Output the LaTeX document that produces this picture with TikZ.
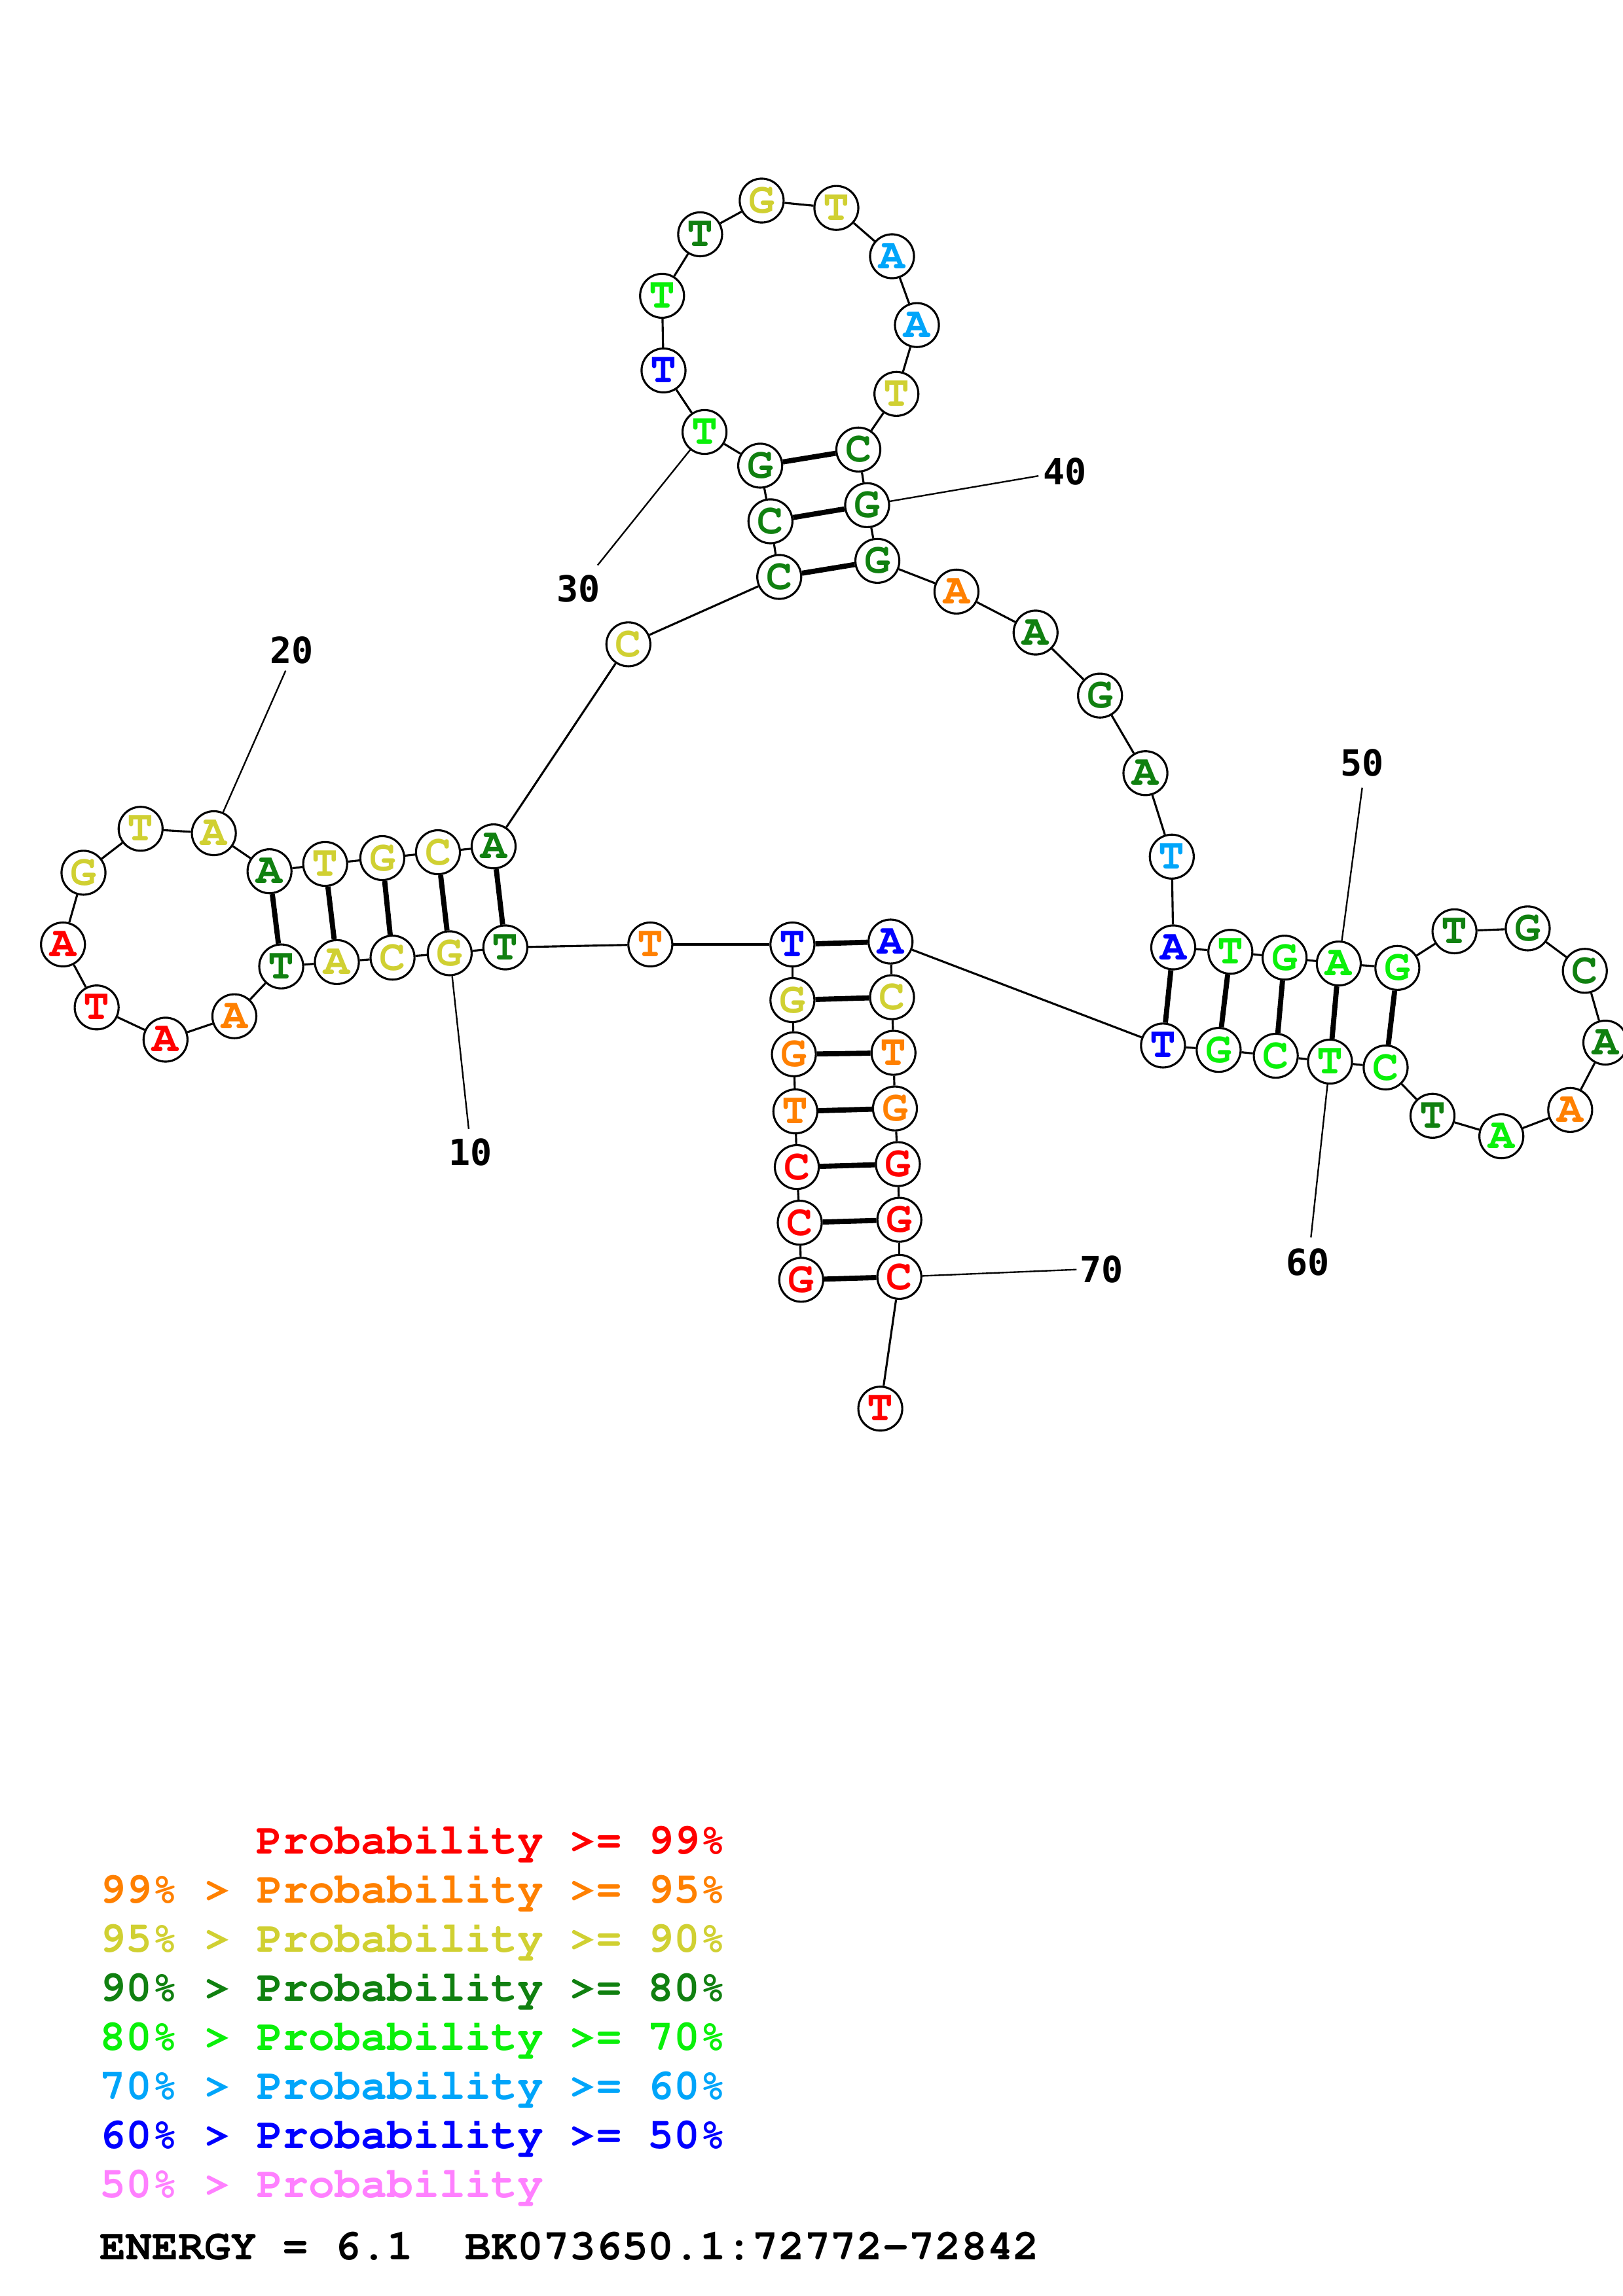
\documentclass[tikz,border=0pt]{standalone}
\usepackage[T1]{fontenc}
\usepackage{fontspec}
\newfontfamily\numfont{DejaVu Sans Mono}
\newcommand\courb{\fontencoding{T1}\fontfamily{pcr}\fontseries{b}\fontshape{n}\fontsize{16.9}{20}\selectfont}
\definecolor{cR}{RGB}{255,0,0}
\definecolor{cO}{RGB}{255,128,0}
\definecolor{cY}{RGB}{208,208,50}
\definecolor{cD}{RGB}{16,128,16}
\definecolor{cG}{RGB}{10,240,10}
\definecolor{cL}{RGB}{0,165,250}
\definecolor{cB}{RGB}{0,0,255}
\definecolor{cP}{RGB}{255,128,255}
\tikzset{
  nt/.style={circle, draw=black, line width=0.8pt, fill=white, minimum size=0.6cm, inner sep=0pt, font=\courb},
  bb/.style={line width=0.8pt},
  bp/.style={line width=2.0pt},
  lbl/.style={line width=0.6pt},
  num/.style={font=\numfont\bfseries\fontsize{14}{16}\selectfont, inner sep=0pt},
  leg/.style={font=\courb, inner sep=0pt, anchor=base west}
}
\begin{document}
\begin{tikzpicture}[x=0.02cm, y=-0.02cm]
\fill[white] (0,0) rectangle (1108,1568);
\useasboundingbox (0,0) rectangle (1108,1568);
\frenchspacing
% nucleotides
\node[nt, text=cR] (n1) at (547,874) {G};
\node[nt, text=cR] (n2) at (546,835) {C};
\node[nt, text=cR] (n3) at (544,797) {C};
\node[nt, text=cO] (n4) at (543,759) {T};
\node[nt, text=cO] (n5) at (542,720) {G};
\node[nt, text=cY] (n6) at (541,683) {G};
\node[nt, text=cB] (n7) at (541,645) {T};
\node[nt, text=cO] (n8) at (444,645) {T};
\node[nt, text=cD] (n9) at (345,647) {T};
\node[nt, text=cY] (n10) at (307,651) {G};
\node[nt, text=cY] (n11) at (268,654) {C};
\node[nt, text=cY] (n12) at (230,657) {A};
\node[nt, text=cD] (n13) at (192,660) {T};
\node[nt, text=cO] (n14) at (160,694) {A};
\node[nt, text=cR] (n15) at (113,710) {A};
\node[nt, text=cR] (n16) at (66,688) {T};
\node[nt, text=cR] (n17) at (43,645) {A};
\node[nt, text=cY] (n18) at (57,596) {G};
\node[nt, text=cY] (n19) at (96,566) {T};
\node[nt, text=cY] (n20) at (146,569) {A};
\node[nt, text=cD] (n21) at (184,595) {A};
\node[nt, text=cY] (n22) at (222,590) {T};
\node[nt, text=cY] (n23) at (261,586) {G};
\node[nt, text=cY] (n24) at (299,582) {C};
\node[nt, text=cD] (n25) at (337,578) {A};
\node[nt, text=cY] (n26) at (429,440) {C};
\node[nt, text=cD] (n27) at (532,394) {C};
\node[nt, text=cD] (n28) at (526,356) {C};
\node[nt, text=cD] (n29) at (519,318) {G};
\node[nt, text=cG] (n30) at (481,295) {T};
\node[nt, text=cB] (n31) at (453,253) {T};
\node[nt, text=cG] (n32) at (452,202) {T};
\node[nt, text=cD] (n33) at (478,160) {T};
\node[nt, text=cY] (n34) at (520,137) {G};
\node[nt, text=cY] (n35) at (571,142) {T};
\node[nt, text=cL] (n36) at (609,175) {A};
\node[nt, text=cL] (n37) at (626,222) {A};
\node[nt, text=cY] (n38) at (612,269) {T};
\node[nt, text=cD] (n39) at (586,307) {C};
\node[nt, text=cD] (n40) at (592,345) {G};
\node[nt, text=cD] (n41) at (599,383) {G};
\node[nt, text=cO] (n42) at (653,404) {A};
\node[nt, text=cD] (n43) at (707,432) {A};
\node[nt, text=cD] (n44) at (751,475) {G};
\node[nt, text=cD] (n45) at (782,528) {A};
\node[nt, text=cL] (n46) at (800,585) {T};
\node[nt, text=cB] (n47) at (801,647) {A};
\node[nt, text=cG] (n48) at (840,650) {T};
\node[nt, text=cG] (n49) at (877,654) {G};
\node[nt, text=cG] (n50) at (914,658) {A};
\node[nt, text=cG] (n51) at (954,661) {G};
\node[nt, text=cD] (n52) at (993,636) {T};
\node[nt, text=cD] (n53) at (1043,634) {G};
\node[nt, text=cD] (n54) at (1082,663) {C};
\node[nt, text=cD] (n55) at (1096,712) {A};
\node[nt, text=cO] (n56) at (1072,758) {A};
\node[nt, text=cG] (n57) at (1025,776) {A};
\node[nt, text=cD] (n58) at (978,762) {T};
\node[nt, text=cG] (n59) at (946,729) {C};
\node[nt, text=cG] (n60) at (908,725) {T};
\node[nt, text=cG] (n61) at (871,721) {C};
\node[nt, text=cG] (n62) at (832,717) {G};
\node[nt, text=cB] (n63) at (794,714) {T};
\node[nt, text=cB] (n64) at (608,643) {A};
\node[nt, text=cY] (n65) at (609,681) {C};
\node[nt, text=cO] (n66) at (610,719) {T};
\node[nt, text=cO] (n67) at (611,757) {G};
\node[nt, text=cR] (n68) at (613,795) {G};
\node[nt, text=cR] (n69) at (614,833) {G};
\node[nt, text=cR] (n70) at (614,872) {C};
\node[nt, text=cR] (n71) at (601,962) {T};
% backbone
\foreach \i in {1,...,70}{
  \pgfmathtruncatemacro{\j}{\i+1}
  \draw[bb] (n\i) -- (n\j);
}
% base pairs
\foreach \a/\b in {1/70,2/69,3/68,4/67,5/66,6/65,7/64,9/25,10/24,11/23,12/22,13/21,27/41,28/40,29/39,47/63,48/62,49/61,50/60,51/59}{
  \draw[bp] (n\a) -- (n\b);
}
% position labels
\coordinate (e10) at (320,771);
\coordinate (e20) at (195,458);
\coordinate (e30) at (408,386);
\coordinate (e40) at (709,325);
\coordinate (e50) at (930,538);
\coordinate (e60) at (895,845);
\coordinate (e70) at (735,867);
\foreach \k in {10,20,30,40,50,60,70}{ \draw[lbl] (n\k) -- (e\k); }
\node[num] (l10) at (321,787) {10};
\node[num] (l20) at (199,444) {20};
\node[num] (l30) at (395,402) {30};
\node[num] (l40) at (727,322) {40};
\node[num] (l50) at (930,521) {50};
\node[num] (l60) at (893,862) {60};
\node[num] (l70) at (752,867) {70};
% legend
\node[leg, text=cR] (g1) at (174.8,1266) {Probability >= 99\%};
\node[leg, text=cO] (g2) at (68,1299.5) {99\% > Probability >= 95\%};
\node[leg, text=cY] (g3) at (68,1333) {95\% > Probability >= 90\%};
\node[leg, text=cD] (g4) at (68,1366.5) {90\% > Probability >= 80\%};
\node[leg, text=cG] (g5) at (68,1400) {80\% > Probability >= 70\%};
\node[leg, text=cL] (g6) at (68,1433.5) {70\% > Probability >= 60\%};
\node[leg, text=cB] (g7) at (68,1467) {60\% > Probability >= 50\%};
\node[leg, text=cP] (g8) at (68,1500.5) {50\% > Probability};
\node[leg, text=black] (g9) at (68,1543) {ENERGY = 6.1~~BK073650.1:72772-72842};
\end{tikzpicture}
\end{document}
